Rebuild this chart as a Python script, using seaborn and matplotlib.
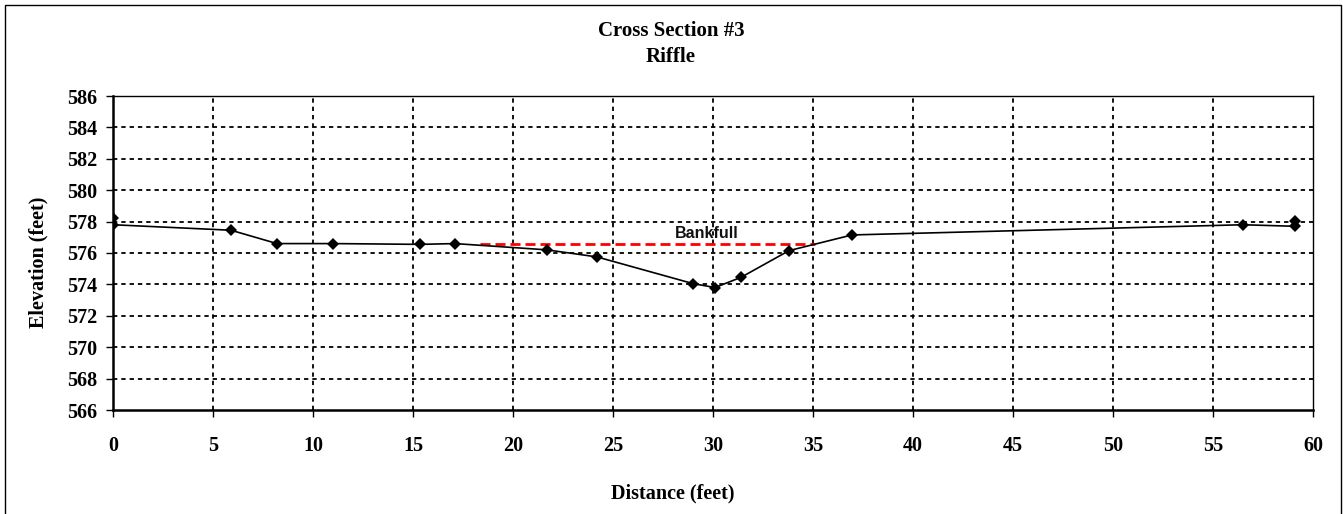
import numpy as np
import pandas as pd
import matplotlib
matplotlib.use("Agg")
import matplotlib.pyplot as plt
import seaborn as sns
from matplotlib.patches import Rectangle

# survey points (distance, elevation)
distance = [0.0, 0.0, 5.9, 8.2, 11.0, 15.35, 17.1, 21.7, 24.2, 29.0, 30.1, 31.4, 33.8, 36.95, 56.5, 59.1, 59.1]
elevation = [578.2, 577.8, 577.45, 576.6, 576.6, 576.55, 576.6, 576.2, 575.75, 574.05, 573.8, 574.45, 576.15, 577.15, 577.8, 577.7, 578.05]

# bankfull line
bankfull_x = [18.35, 35.1]
bankfull_y = [576.57, 576.57]

x_ticks = list(range(0, 61, 5))
y_ticks = list(range(566, 587, 2))

title_lines = ["Cross Section #3", "Riffle"]

df = pd.DataFrame({"Distance": distance, "Elevation": elevation})
bf = pd.DataFrame({"x": bankfull_x, "y": bankfull_y})

sns.set_theme(style="white")
plt.rcParams['font.family'] = ['Liberation Serif', 'DejaVu Serif']
plt.rcParams['font.weight'] = 'bold'
plt.rcParams['text.color'] = 'black'
plt.rcParams['axes.labelcolor'] = 'black'
plt.rcParams['xtick.color'] = 'black'
plt.rcParams['ytick.color'] = 'black'

W, H = 1343, 514
fig = plt.figure(figsize=(W / 100, H / 100), dpi=100)
ax = fig.add_axes([113 / W, 1 - 410 / H, 1200 / W, 314 / H])

# outer chart border
fig.patches.append(Rectangle((5 / W, -0.05), 1336 / W, 1.05 - 5 / H,
                             transform=fig.transFigure, fill=False,
                             edgecolor='black', linewidth=1.0))

# gridlines
for xv in x_ticks[1:-1]:
    ax.axvline(xv, color='black', linewidth=1.3, dashes=(2.4, 2.2), zorder=1)
for yv in y_ticks[1:-1]:
    ax.axhline(yv, color='black', linewidth=1.3, dashes=(2.4, 2.2), zorder=1)

sns.lineplot(data=bf, x="x", y="y", ax=ax, color='#ff0000', linewidth=2.0,
             dashes=False, zorder=2).lines[-1].set_dashes((3.6, 1.8))
sns.lineplot(data=df, x="Distance", y="Elevation", ax=ax, sort=False,
             estimator=None, color='black', linewidth=1.2, marker='D',
             markersize=6.5, markeredgewidth=0, zorder=3)

ax.text(29.7, 576.75, "Bankfull", family='Liberation Sans', fontweight='bold',
        fontsize=11.5, ha='center', va='bottom', color='#111111')

ax.set_xlim(0, 60)
ax.set_ylim(566, 586)
ax.set_xticks(x_ticks)
ax.set_yticks(y_ticks)
ax.tick_params(axis='both', labelsize=14.5, direction='out', length=5, width=1,
               color='black', pad=6, bottom=True, left=True)
ax.tick_params(axis='x', pad=14)
for lab in ax.get_xticklabels() + ax.get_yticklabels():
    lab.set_fontweight('bold')

for side in ['left', 'bottom']:
    ax.spines[side].set_linewidth(1.8)
    ax.spines[side].set_color('black')
for side in ['top', 'right']:
    ax.spines[side].set_linewidth(1.0)
    ax.spines[side].set_color('black')

ax.set_xlabel("")
ax.set_ylabel("")
fig.text(38 / W, 1 - 262 / H, "Elevation (feet)", rotation=90, fontsize=14.5,
         fontweight='bold', ha='center', va='center')
fig.text(673 / W, 1 - 493 / H, "Distance (feet)", fontsize=14.5,
         fontweight='bold', ha='center', va='center')
fig.text(671 / W, 1 - 31 / H, title_lines[0], fontsize=15, fontweight='bold',
         ha='center', va='center')
fig.text(671 / W, 1 - 57 / H, title_lines[1], fontsize=15, fontweight='bold',
         ha='center', va='center')

fig.savefig("out.png", dpi=100)
